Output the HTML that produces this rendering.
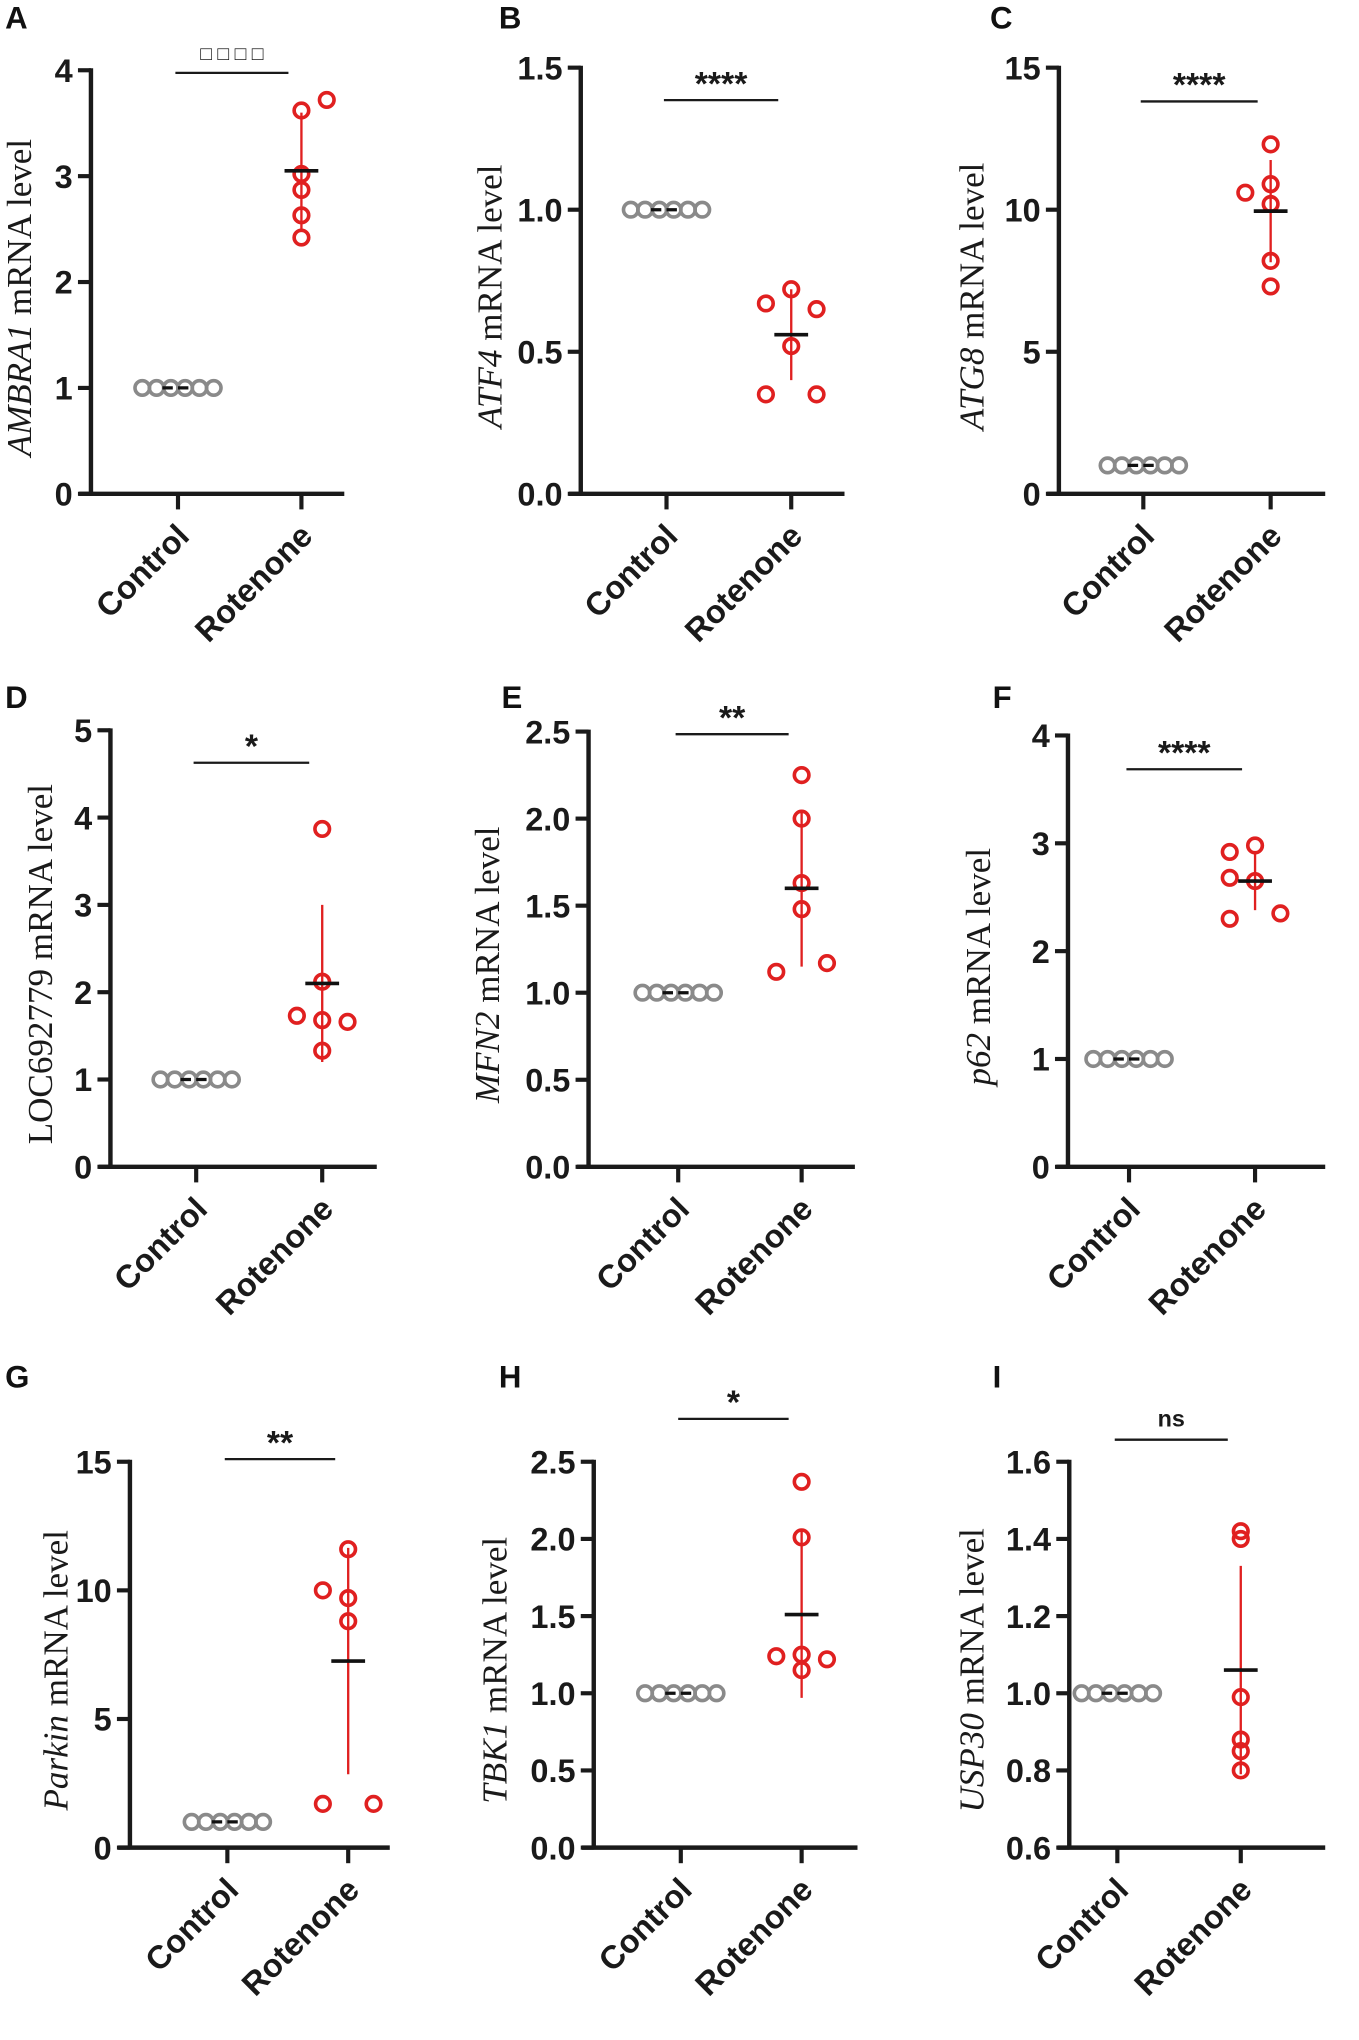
<!DOCTYPE html>
<html><head><meta charset="utf-8"><style>
html,body{margin:0;padding:0;background:#fff}
svg{display:block}
text{font-family:"Liberation Sans",sans-serif}
</style></head><body>
<svg id="fig" width="1359" height="2040" viewBox="0 0 1046 1570" xmlns="http://www.w3.org/2000/svg"></svg>
<script>
// ---- data (one set of arrays per panel) ----
const groups = ["Control", "Rotenone"];
const geneA = "AMBRA1"; const ticksA = [0,1,2,3,4]; const ctrlA = [1,1,1,1,1,1]; const rotA = [3.62,3.72,3.02,2.87,2.63,2.42]; const rotOffA = [0,1,0,0,0,0]; const meanA = 3.05; const sdA = 0.55; const sigA = "□ □ □ □";
const geneB = "ATF4"; const ticksB = [0,0.5,1.0,1.5]; const ctrlB = [1,1,1,1,1,1]; const rotB = [0.72,0.67,0.65,0.52,0.35,0.35]; const rotOffB = [0,-1,1,0,-1,1]; const meanB = 0.56; const sdB = 0.16; const sigB = "****";
const geneC = "ATG8"; const ticksC = [0,5,10,15]; const ctrlC = [1,1,1,1,1,1]; const rotC = [12.3,10.9,10.6,10.2,8.2,7.3]; const rotOffC = [0,0,-1,0,0,0]; const meanC = 9.95; const sdC = 1.8; const sigC = "****";
const geneD = "LOC692779"; const ticksD = [0,1,2,3,4,5]; const ctrlD = [1,1,1,1,1,1]; const rotD = [3.87,2.12,1.73,1.66,1.68,1.33]; const rotOffD = [0,0,-1,1,0,0]; const meanD = 2.1; const sdD = 0.9; const sigD = "*";
const geneE = "MFN2"; const ticksE = [0,0.5,1.0,1.5,2.0,2.5]; const ctrlE = [1,1,1,1,1,1]; const rotE = [2.25,2.0,1.63,1.48,1.12,1.17]; const rotOffE = [0,0,0,0,-1,1]; const meanE = 1.6; const sdE = 0.45; const sigE = "**";
const geneF = "p62"; const ticksF = [0,1,2,3,4]; const ctrlF = [1,1,1,1,1,1]; const rotF = [2.98,2.92,2.68,2.65,2.3,2.35]; const rotOffF = [0,-1,-1,0,-1,1]; const meanF = 2.65; const sdF = 0.27; const sigF = "****";
const geneG = "Parkin"; const ticksG = [0,5,10,15]; const ctrlG = [1,1,1,1,1,1]; const rotG = [11.6,10.0,9.7,8.8,1.7,1.7]; const rotOffG = [0,-1,0,0,-1,1]; const meanG = 7.25; const sdG = 4.4; const sigG = "**";
const geneH = "TBK1"; const ticksH = [0,0.5,1.0,1.5,2.0,2.5]; const ctrlH = [1,1,1,1,1,1]; const rotH = [2.37,2.01,1.24,1.25,1.15,1.22]; const rotOffH = [0,0,-1,0,0,1]; const meanH = 1.51; const sdH = 0.54; const sigH = "*";
const geneI = "USP30"; const ticksI = [0.6,0.8,1.0,1.2,1.4,1.6]; const ctrlI = [1,1,1,1,1,1]; const rotI = [1.42,1.40,0.99,0.88,0.85,0.80]; const rotOffI = [0,0,0,0,0,0]; const meanI = 1.06; const sdI = 0.27; const sigI = "ns";

const NS = "http://www.w3.org/2000/svg";
const svg = document.getElementById('fig');
function el(tag, attrs, parent, txt){
  const e = document.createElementNS(NS, tag);
  for (const k in attrs) e.setAttribute(k, attrs[k]);
  if (txt !== undefined) e.textContent = txt;
  (parent || svg).appendChild(e);
  return e;
}
function fmt(v, ticks){
  const dec = ticks.some(t => Math.round(t) !== t) ? 1 : 0;
  return v.toFixed(dec);
}
function panel(p){
  const g = el('g', {});
  
  
  const lo = p.ticks[0], hi = p.ticks[p.ticks.length-1];
  const y = v => p.y0 + (v - lo) / (hi - lo) * (p.yTop - p.y0);
  const xs = [p.cx, p.rx];
  const L = el('text', {x: p.lx, y: p.ly, 'font-size': 24, 'font-weight': 'bold', fill: '#111'}, g, p.letter);
  
  
  const ya = el('line', {x1: p.ax, y1: p.yTop - 1.5, x2: p.ax, y2: p.y0 + 1.5, stroke: '#1a1a1a', 'stroke-width': 3.4}, g);
  
  
  const xa = el('line', {x1: p.ax - 9, y1: p.y0, x2: p.xEnd, y2: p.y0, stroke: '#1a1a1a', 'stroke-width': 3.4}, g);
  
  
  p.ticks.forEach(t => {
    el('line', {x1: p.ax - 10, y1: y(t), x2: p.ax, y2: y(t), stroke: '#1a1a1a', 'stroke-width': 3.2}, g);
    const tl = el('text', {x: p.ax - 14, y: y(t) + 9, 'font-size': 25, 'font-weight': 'bold', 'text-anchor': 'end', fill: '#1a1a1a'}, g, fmt(t, p.ticks));
    
    
  });
  groups.forEach((name, i) => {
    el('line', {x1: xs[i], y1: p.y0, x2: xs[i], y2: p.y0 + 12, stroke: '#1a1a1a', 'stroke-width': 3.2}, g);
    const ax = xs[i] + 10, ay = p.y0 + 34;
    const xl = el('text', {x: ax, y: ay, 'font-size': 25, 'font-weight': 'bold', 'text-anchor': 'end', fill: '#1a1a1a', transform: `rotate(-45 ${ax} ${ay})`}, g, name);
    
    
  });
  const ymid = (p.y0 + p.yTop) / 2 + 12;
  const yt = el('text', {x: p.tx, y: ymid, 'font-size': 27, 'text-anchor': 'middle', fill: '#1a1a1a', transform: `rotate(-90 ${p.tx} ${ymid})`, style: 'font-family:"Liberation Serif",serif'}, g);
  
  
  el('tspan', {'font-style': p.italic ? 'italic' : 'normal'}, yt, p.gene);
  el('tspan', {}, yt, ' mRNA level');
  const sb = el('line', {x1: p.cx - 2, y1: p.sigY, x2: p.rx - 10, y2: p.sigY, stroke: '#1a1a1a', 'stroke-width': 1.8}, g);
  
  
  const isBox = p.sig.startsWith('□');
  const st = el('text', {x: (p.cx + p.rx - 12) / 2, y: p.sigY - (p.sig === 'ns' ? 10 : (isBox ? 10 : 4)), 'font-size': p.sig === 'ns' ? 18 : (isBox ? 15 : 26), 'font-weight': 'bold', 'text-anchor': 'middle', fill: '#1a1a1a'}, g, p.sig);
  
  
  p.ctrl.forEach((v, i) => {
    const c = el('circle', {cx: p.cx + (i - 2.5) * 11, cy: y(v), r: 5.6, fill: 'none', stroke: '#8a8a8a', 'stroke-width': 2.8}, g);
    
    
  });
  const cm = p.ctrl.reduce((a, b) => a + b, 0) / p.ctrl.length;
  el('line', {x1: p.cx - 12, y1: y(cm), x2: p.cx + 12, y2: y(cm), stroke: '#111', 'stroke-width': 2.5, 'stroke-dasharray': '8 4'}, g);
  const eb = el('line', {x1: p.rx, y1: y(p.mean + p.sd), x2: p.rx, y2: y(p.mean - p.sd), stroke: '#e02020', 'stroke-width': 1.8}, g);
  
  
  p.rot.forEach((v, i) => {
    const c = el('circle', {cx: p.rx + p.off[i] * 19.5, cy: y(v), r: 5.6, fill: 'none', stroke: '#e02020', 'stroke-width': 2.8}, g);
    
    
  });
  const mm = el('line', {x1: p.rx - 13, y1: y(p.mean), x2: p.rx + 13, y2: y(p.mean), stroke: '#111', 'stroke-width': 2.8}, g);
  
  
}
panel({letter:'A', lx:4, ly:22, ax:70, xEnd:265, cx:137, rx:232, yTop:54, y0:380, tx:24, ticks:ticksA, gene:geneA, italic:true, ctrl:ctrlA, rot:rotA, off:rotOffA, mean:meanA, sd:sdA, sig:sigA, sigY:56});
panel({letter:'B', lx:384, ly:22, ax:447, xEnd:650, cx:513, rx:609, yTop:52, y0:380, tx:386, ticks:ticksB, gene:geneB, italic:true, ctrl:ctrlB, rot:rotB, off:rotOffB, mean:meanB, sd:sdB, sig:sigB, sigY:77});
panel({letter:'C', lx:762, ly:22, ax:815, xEnd:1020, cx:880, rx:978, yTop:52, y0:380, tx:757, ticks:ticksC, gene:geneC, italic:true, ctrl:ctrlC, rot:rotC, off:rotOffC, mean:meanC, sd:sdC, sig:sigC, sigY:78});
panel({letter:'D', lx:4, ly:545, ax:85, xEnd:290, cx:151, rx:248, yTop:562, y0:898, tx:40, ticks:ticksD, gene:geneD, italic:false, ctrl:ctrlD, rot:rotD, off:rotOffD, mean:meanD, sd:sdD, sig:sigD, sigY:587});
panel({letter:'E', lx:386, ly:545, ax:453, xEnd:658, cx:522, rx:617, yTop:563, y0:898, tx:384, ticks:ticksE, gene:geneE, italic:true, ctrl:ctrlE, rot:rotE, off:rotOffE, mean:meanE, sd:sdE, sig:sigE, sigY:565});
panel({letter:'F', lx:764, ly:545, ax:822, xEnd:1020, cx:869, rx:966, yTop:566, y0:898, tx:762, ticks:ticksF, gene:geneF, italic:true, ctrl:ctrlF, rot:rotF, off:rotOffF, mean:meanF, sd:sdF, sig:sigF, sigY:592});
panel({letter:'G', lx:4, ly:1068, ax:100, xEnd:300, cx:175, rx:268, yTop:1125, y0:1422, tx:52, ticks:ticksG, gene:geneG, italic:true, ctrl:ctrlG, rot:rotG, off:rotOffG, mean:meanG, sd:sdG, sig:sigG, sigY:1123});
panel({letter:'H', lx:384, ly:1068, ax:457, xEnd:660, cx:524, rx:617, yTop:1125, y0:1422, tx:390, ticks:ticksH, gene:geneH, italic:true, ctrl:ctrlH, rot:rotH, off:rotOffH, mean:meanH, sd:sdH, sig:sigH, sigY:1092});
panel({letter:'I', lx:764, ly:1068, ax:823, xEnd:1020, cx:860, rx:955, yTop:1125, y0:1422, tx:757, ticks:ticksI, gene:geneI, italic:true, ctrl:ctrlI, rot:rotI, off:rotOffI, mean:meanI, sd:sdI, sig:sigI, sigY:1108});
</script>
</body></html>
